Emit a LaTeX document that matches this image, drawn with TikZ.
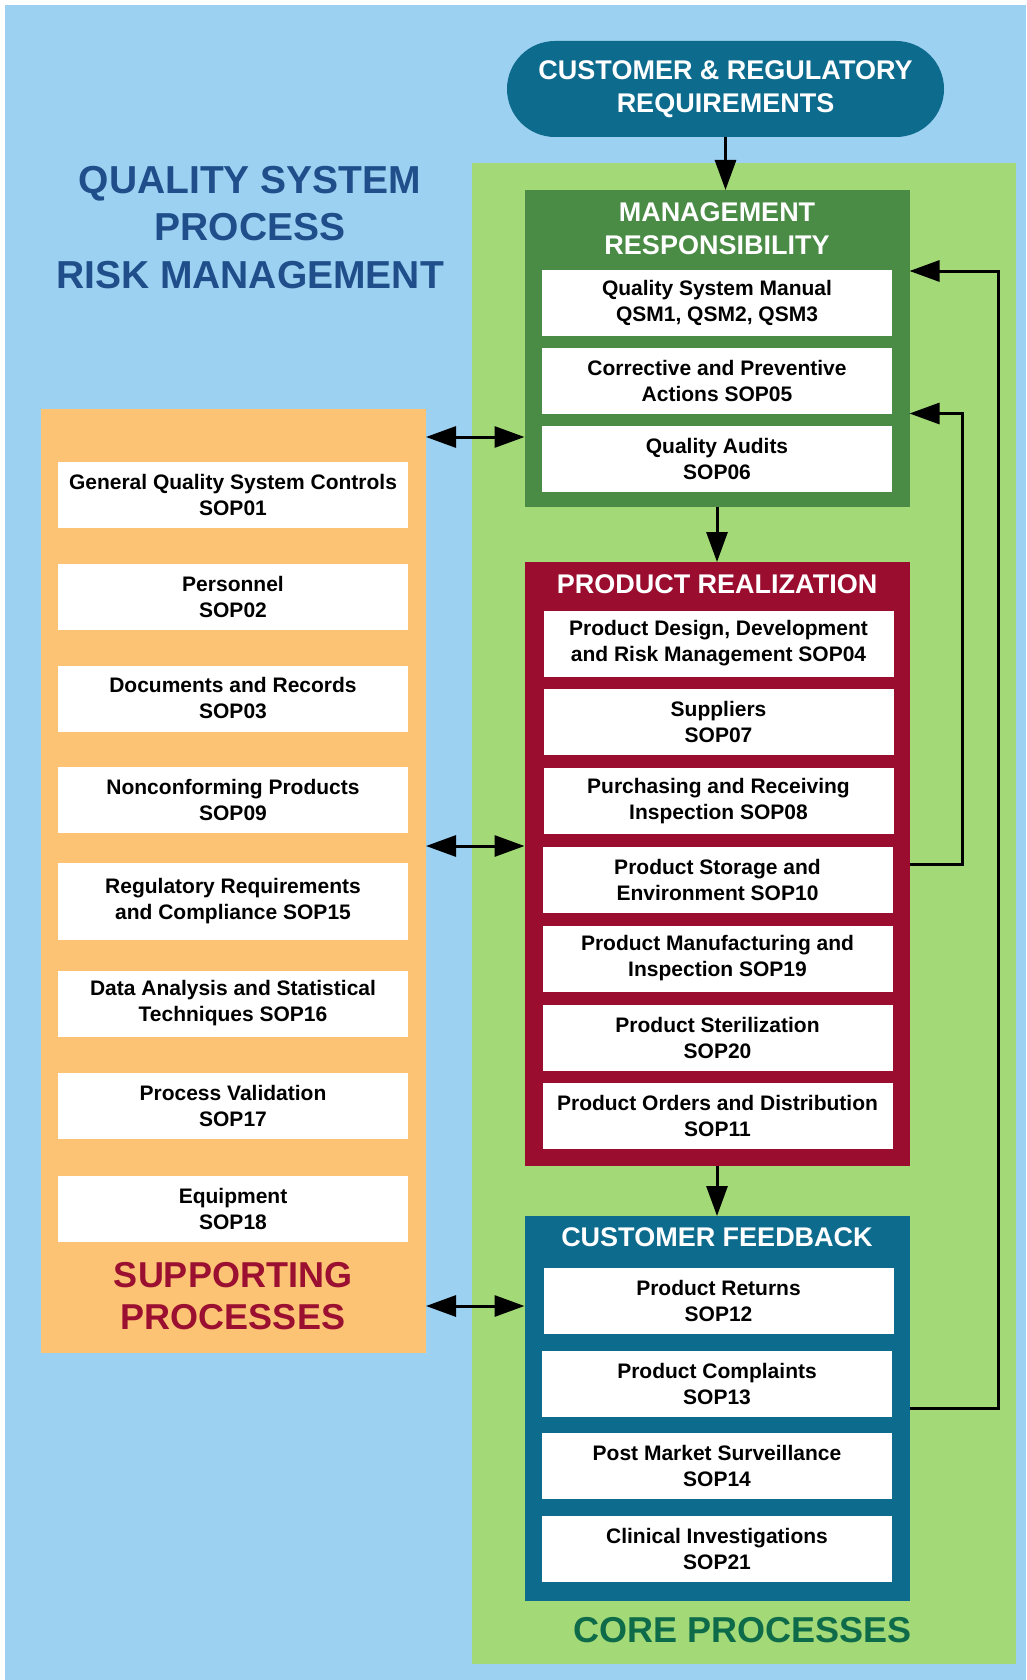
\documentclass[tikz,border=0pt]{standalone}
\usepackage{fontspec}
\setmainfont{Liberation Sans}
\usetikzlibrary{arrows.meta}
\definecolor{bgblue}{HTML}{9DD1F1}
\definecolor{panelgreen}{HTML}{A3D977}
\definecolor{panelorange}{HTML}{FDC374}
\definecolor{mgmtgreen}{HTML}{4A8B45}
\definecolor{prred}{HTML}{9B0D2E}
\definecolor{tealblue}{HTML}{0D6B8E}
\definecolor{titleblue}{HTML}{1F4E8A}
\definecolor{supred}{HTML}{9B1030}
\definecolor{coregreen}{HTML}{0E6B4A}
\begin{document}
\begin{tikzpicture}[x=1pt,y=-1pt,
  wbox/.style={fill=white, minimum width=350pt, minimum height=66pt, inner sep=0pt, outer sep=0pt, align=center, text=black, font=\fontsize{21}{26}\selectfont\bfseries},
  panel/.style={inner sep=0pt, outer sep=0pt, minimum width=385pt},
  headtext/.style={text=white, align=center, inner sep=0pt, font=\fontsize{27}{32.5}\selectfont\bfseries},
  conn/.style={line width=3pt, -{Triangle[length=30pt,width=21pt]}},
  dconn/.style={line width=3pt, {Triangle[length=30pt,width=21pt]}-{Triangle[length=30pt,width=21pt]}}
]
\useasboundingbox (0,0) rectangle (1026,1680);
\fill[white] (0,0) rectangle (1026,1680);
\fill[bgblue] (5,5) rectangle (1026,1680);
% core panel
\node[fill=panelgreen, inner sep=0pt, outer sep=0pt, minimum width=544pt, minimum height=1501pt] (corepanel) at (744,913.5) {};
% supporting panel
\node[fill=panelorange, inner sep=0pt, outer sep=0pt, minimum width=385pt, minimum height=944pt] (suppanel) at (233.5,881) {};

% title
\node[text=titleblue, align=center, inner sep=0pt, font=\fontsize{39}{47.5}\selectfont\bfseries] (title) at (250,227.5) {QUALITY SYSTEM\\PROCESS\\RISK MANAGEMENT};

% customer & regulatory
\node[fill=tealblue, rounded corners=48pt, minimum width=437pt, minimum height=96pt, inner sep=0pt, outer sep=0pt, headtext] (creq) at (725.5,89) {CUSTOMER \& REGULATORY\\REQUIREMENTS};

% management responsibility
\node[panel, fill=mgmtgreen, minimum height=317pt] (mgmt) at (717,348.5) {};
\node[headtext] (mgmthead) at (717,228.5) {MANAGEMENT\\RESPONSIBILITY};
\node[wbox] (qsm) at (717,303) {Quality System Manual\\QSM1, QSM2, QSM3};
\node[wbox] (capa) at (717,381) {Corrective and Preventive\\Actions SOP05};
\node[wbox] (audit) at (717,459) {Quality Audits\\SOP06};

% product realization
\node[panel, fill=prred, minimum height=604pt] (pr) at (717,864) {};
\node[headtext] (prhead) at (717,584) {PRODUCT REALIZATION};
\node[wbox] (pr1) at (718.5,643.5) {Product Design, Development\\and Risk Management SOP04};
\node[wbox] (pr2) at (718.5,722.3) {Suppliers\\SOP07};
\node[wbox] (pr3) at (718.5,801.1) {Purchasing and Receiving\\Inspection SOP08};
\node[wbox] (pr4) at (717.5,879.5) {Product Storage and\\Environment SOP10};
\node[wbox] (pr5) at (717.5,958.5) {Product Manufacturing and\\Inspection SOP19};
\node[wbox] (pr6) at (717.5,1037.5) {Product Sterilization\\SOP20};
\node[wbox] (pr7) at (717.5,1116) {Product Orders and Distribution\\SOP11};

% customer feedback
\node[panel, fill=tealblue, minimum height=385pt] (cf) at (717,1408.5) {};
\node[headtext] (cfhead) at (717,1237) {CUSTOMER FEEDBACK};
\node[wbox] (cf1) at (718.5,1301) {Product Returns\\SOP12};
\node[wbox] (cf2) at (717,1383.5) {Product Complaints\\SOP13};
\node[wbox] (cf3) at (717,1466) {Post Market Surveillance\\SOP14};
\node[wbox] (cf4) at (717,1549) {Clinical Investigations\\SOP21};

\node[text=coregreen, inner sep=0pt, font=\fontsize{36}{42}\selectfont\bfseries] (corelabel) at (743,1630) {CORE PROCESSES};

% supporting boxes
\node[wbox] (s1) at (233,494.5) {General Quality System Controls\\SOP01};
\node[wbox] (s2) at (233,596.5) {Personnel\\SOP02};
\node[wbox] (s3) at (233,698.5) {Documents and Records\\SOP03};
\node[wbox] (s4) at (233,800) {Nonconforming Products\\SOP09};
\node[wbox, minimum height=77pt] (s5) at (233,901.5) {Regulatory Requirements\\and Compliance SOP15};
\node[wbox] (s6) at (233,1003.5) {Data Analysis and Statistical\\Techniques SOP16};
\node[wbox] (s7) at (233,1105.5) {Process Validation\\SOP17};
\node[wbox] (s8) at (233,1208.5) {Equipment\\SOP18};
\node[text=supred, align=center, inner sep=0pt, font=\fontsize{36}{42}\selectfont\bfseries] (suplabel) at (233,1296) {SUPPORTING\\PROCESSES};

% connectors
\draw[conn] (creq.south) -- (creq.south |- mgmt.north);
\draw[conn] (mgmt.south) -- (pr.north);
\draw[conn] (pr.south) -- (cf.north);

\coordinate (fb1a) at (998,1408.5);
\coordinate (fb1b) at (998,271);
\draw[conn] (cf.east) -- (fb1a) -- (fb1b) -- (fb1b -| mgmt.east);
\coordinate (fb2a) at (962,864);
\coordinate (fb2b) at (962,413.5);
\draw[conn] (pr.east) -- (fb2a) -- (fb2b) -- (fb2b -| mgmt.east);

\coordinate (d1) at (0,437);
\coordinate (d2) at (0,846);
\coordinate (d3) at (0,1306);
\draw[dconn] (d1 -| suppanel.east) -- (d1 -| mgmt.west);
\draw[dconn] (d2 -| suppanel.east) -- (d2 -| pr.west);
\draw[dconn] (d3 -| suppanel.east) -- (d3 -| cf.west);
\end{tikzpicture}
\end{document}
